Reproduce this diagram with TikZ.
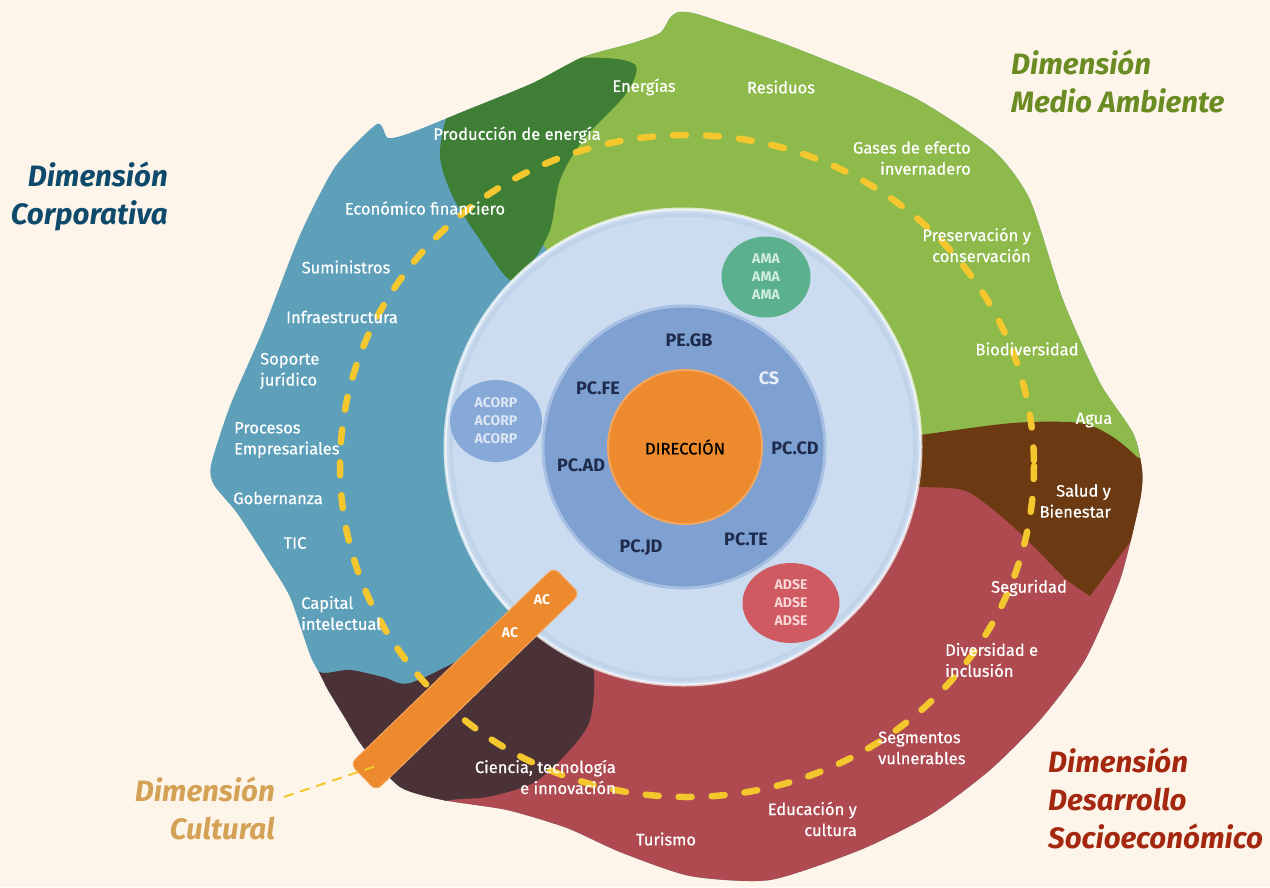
\documentclass[tikz,border=0pt]{standalone}
\usepackage{fontspec}
\setmainfont{Fira Sans}
\newfontfamily\lblfont{Fira Sans}[FakeBold=0.6]
\usetikzlibrary{shapes.geometric}
\definecolor{bg}{HTML}{FEF5EA}
\definecolor{corp}{HTML}{5E9FBA}
\definecolor{dgreen}{HTML}{3E7E35}
\definecolor{lgreen}{HTML}{8DBA4A}
\definecolor{brownc}{HTML}{6B3A12}
\definecolor{redc}{HTML}{AE4A50}
\definecolor{maroonc}{HTML}{4B3237}
\definecolor{lightc}{HTML}{CBDCF0}
\definecolor{lightshade}{HTML}{B9CCE4}
\definecolor{midblue}{HTML}{7EA1D1}
\definecolor{midrim}{HTML}{A7BFE3}
\definecolor{orangec}{HTML}{EC8A2D}
\definecolor{orangerim}{HTML}{F3A660}
\definecolor{amac}{HTML}{5BB08D}
\definecolor{amatext}{HTML}{D2EEDF}
\definecolor{acorpc}{HTML}{87A9D8}
\definecolor{acorptext}{HTML}{DCE6F5}
\definecolor{adsec}{HTML}{D05A62}
\definecolor{adsetext}{HTML}{F7D6D8}
\definecolor{corpblue}{HTML}{0E4A6B}
\definecolor{magreen}{HTML}{6B8B23}
\definecolor{dsered}{HTML}{A4270F}
\definecolor{culgold}{HTML}{D4A256}
\definecolor{yellowd}{HTML}{F4C72E}
\definecolor{navy}{HTML}{1E2B4D}
\definecolor{cslight}{HTML}{E8EFF8}
\begin{document}
\begin{tikzpicture}[x=1pt,y=-1pt,
  lbl/.style={text=white,font=\lblfont\fontsize{16.5}{21}\selectfont,inner sep=0pt},
  ttl/.style={font=\fontsize{29.5}{38}\selectfont\bfseries\itshape,inner sep=0pt},
  inl/.style={text=navy,font=\fontsize{18}{20}\selectfont\bfseries,inner sep=0pt},
  sml/.style={font=\fontsize{14}{18}\selectfont\bfseries,inner sep=0pt,align=center},
  blob/.style={ellipse,inner sep=0pt}]
\fill[bg] (0,0) rectangle (1270,887);
\useasboundingbox (0,0) rectangle (1270,887);
% coloured regions
\begin{scope}
\clip plot[smooth cycle,tension=0.4] coordinates {
 (679,12) (700,15) (790,46) (913,97) (993,150) (1030,200) (1063,300) (1100,383)
 (1133,433) (1142,470) (1140,500) (1120,580) (1085,660) (1040,720) (990,770)
 (930,815) (860,850) (770,880) (690,876) (620,852) (567,828) (507,810) (443,800)
 (400,787) (363,747) (345,718) (328,690) (320,674) (310,655) (290,597) (267,559)
 (237,513) (214,485) (211,465) (230,406) (263,330) (300,235) (335,167) (377,124)
 (388,138) (410,133) (467,110) (533,83) (583,57) (633,43) (660,33) (670,18)};
\fill[corp] (0,0) rectangle (1270,887);
\fill[redc] (683,447) -- (900,440) -- (1300,440) -- (1300,900) -- (300,900) -- (430,790) -- (600,650) -- cycle;
\fill[lgreen] (520,-10) -- (1300,-10) -- (1300,500) -- (1140,470) -- (900,470) -- (683,447) -- (540,240) -- (560,150) -- (530,70) -- cycle;
\fill[brownc] plot[smooth,tension=0.5] coordinates {(880,440) (920,435) (1013,423) (1080,423) (1113,437) (1137,457)}
  -- (1170,470) -- (1165,495)
  -- plot[smooth,tension=0.5] coordinates {(1090,596) (1067,580) (1047,560) (1020,533) (990,507) (963,490) (920,487) (880,487)} -- cycle;
\fill[maroonc] plot[smooth cycle,tension=0.5] coordinates {(290,668) (323,673) (350,670) (383,677) (410,683) (470,655) (530,628) (570,645) (593,667) (590,720) (567,753) (533,783) (487,797) (443,802) (400,830) (300,820)};
\fill[dgreen] plot[smooth cycle,tension=0.5] coordinates {(440,150) (460,95) (540,62) (605,58) (636,66) (625,95) (583,140) (560,180) (550,230) (530,265) (510,280) (480,240) (452,195)};
\end{scope}
% dashed ring
\draw[yellowd,line width=6.5pt,line cap=round,dash pattern=on 13pt off 20pt] (687,466) ellipse [x radius=347,y radius=331];
% central circles
\node[circle,minimum size=476pt,fill=lightc,draw=white,draw opacity=0.7,line width=3pt] (outerc) at (683,447) {};
\draw[lightshade,line width=4pt,opacity=0.5] (outerc.center) circle [radius=232];
\node[circle,minimum size=282pt,fill=midblue,draw=midrim,line width=3pt] (midc) at (684,447) {};
\node[circle,minimum size=154pt,fill=orangec,draw=orangerim,line width=2pt,font=\lblfont\fontsize{16.5}{20}\selectfont,text=black] (dir) at (685,447) {DIRECCIÓN};
% small blobs
\node[blob,minimum width=89pt,minimum height=81pt,fill=amac] (ama) at (766,277) {};
\node[sml,text=amatext] (amat) at (ama.center) {AMA\\AMA\\AMA};
\node[blob,minimum width=92pt,minimum height=82pt,fill=acorpc] (acorp) at (496,421) {};
\node[sml,text=acorptext] (acorpt) at (acorp.center) {ACORP\\ACORP\\ACORP};
\node[blob,minimum width=97pt,minimum height=80pt,fill=adsec] (adse) at (791,603) {};
\node[sml,text=adsetext] (adset) at (adse.center) {ADSE\\ADSE\\ADSE};
% inner labels
\node[inl] (pegb) at (689,340) {PE.GB};
\node[inl,text=cslight] (cs) at (769,378) {CS};
\node[inl] (pcfe) at (598,388) {PC.FE};
\node[inl] (pccd) at (795,448) {PC.CD};
\node[inl] (pcad) at (581,465) {PC.AD};
\node[inl] (pcjd) at (641,548) {PC.JD};
\node[inl] (pcte) at (746,539) {PC.TE};
% culture bar
\node[draw=orangerim,line width=1pt,fill=orangec,rounded corners=7pt,minimum width=283pt,minimum height=37pt,inner sep=0pt,rotate=44] (bar) at (465,679) {};
\node[text=white,font=\fontsize{14}{15}\selectfont\bfseries,inner sep=0pt] (ac1) at (542,600) {AC};
\node[text=white,font=\fontsize{14}{15}\selectfont\bfseries,inner sep=0pt] (ac2) at (510,633) {AC};
% outer labels
\node[lbl] (energias) at (644,87) {Energías};
\node[lbl] (residuos) at (781,87) {Residuos};
\node[lbl] (prod) at (517,135) {Producción de energía};
\node[lbl,align=right,anchor=east] (gases) at (971,158) {Gases de efecto\\invernadero};
\node[lbl,align=right,anchor=east] (pres) at (1031,245) {Preservación y\\conservación};
\node[lbl] (bio) at (1027,349) {Biodiversidad};
\node[lbl] (agua) at (1094,420) {Agua};
\node[lbl,align=right,anchor=east] (salud) at (1111,501) {Salud y\\Bienestar};
\node[lbl] (seg) at (1029,588) {Seguridad};
\node[lbl,align=left,anchor=west] (div) at (945,660) {Diversidad e\\inclusión};
\node[lbl,align=left,anchor=west] (segm) at (878,748) {Segmentos\\vulnerables};
\node[lbl,align=right,anchor=east] (edu) at (857,819) {Educación y\\cultura};
\node[lbl] (tur) at (666,839) {Turismo};
\node[lbl,align=right,anchor=east] (cien) at (616,777) {Ciencia, tecnología\\e innovación};
\node[lbl,align=left,anchor=west] (capital) at (301,613) {Capital\\intelectual};
\node[lbl] (tic) at (295,543) {TIC};
\node[lbl] (gob) at (278,498) {Gobernanza};
\node[lbl,align=left,anchor=west] (proc) at (234,440) {Procesos\\Empresariales};
\node[lbl,align=left,anchor=west] (sop) at (260,371) {Soporte\\jurídico};
\node[lbl] (infra) at (342,317) {Infraestructura};
\node[lbl] (sum) at (346,267) {Suministros};
\node[lbl] (eco) at (425,208) {Económico financiero};
% titles
\node[ttl,text=corpblue,align=right,anchor=east] (tcorp) at (168,196) {Dimensión\\Corporativa};
\node[ttl,text=magreen,align=left,anchor=west] (tma) at (1011,81) {Dimensión\\Medio Ambiente};
\node[ttl,text=dsered,align=left,anchor=west] (tdse) at (1048,798) {Dimensión\\Desarrollo\\Socioeconómico};
\node[ttl,text=culgold,align=right,anchor=east] (tcul) at (275,808) {Dimensión\\Cultural};
% connector from cultural title to bar
\coordinate (cl1) at (284,797);
\coordinate (cl2) at (376,766);
\draw[yellowd,line width=2pt,dash pattern=on 10pt off 7pt] (cl1) -- (cl2);
\end{tikzpicture}
\end{document}
